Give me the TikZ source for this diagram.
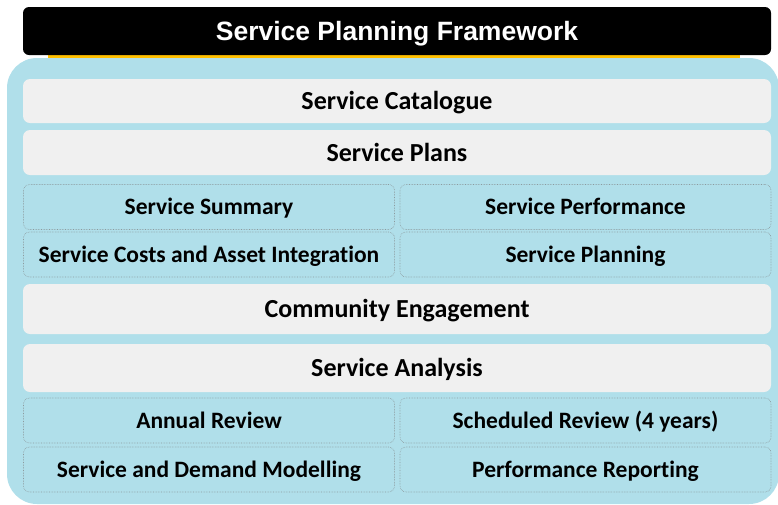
\documentclass[tikz,border=0pt]{standalone}
\usepackage{fontspec}
\setmainfont{Carlito}[Ligatures=NoCommon]
\newfontfamily\titlefont{Liberation Sans}
\usetikzlibrary{calc}

\definecolor{panelblue}{HTML}{B0DFEA}
\definecolor{bargrey}{HTML}{F0F0F0}
\definecolor{lineyellow}{HTML}{FFC000}
\definecolor{dotgrey}{HTML}{8C9A9E}

\begin{document}
\begin{tikzpicture}[x=1pt, y=-1pt,
  bar/.style={fill=bargrey, rounded corners=7pt, minimum width=748pt, inner sep=0pt,
    text height=17pt, text depth=0pt,
    font=\fontsize{26}{30}\selectfont\bfseries},
  cell/.style={draw=dotgrey, densely dotted, line width=0.6pt, fill=panelblue,
    rounded corners=6pt, minimum width=371pt, minimum height=45pt, inner sep=0pt,
    text height=15pt, text depth=0pt,
    font=\fontsize{23.5}{27}\selectfont\bfseries}]

\useasboundingbox (0, 0) rectangle (778, 504);

\fill[color=panelblue, rounded corners=30pt] (7, 58) rectangle (779, 504);
\fill[color=lineyellow] (48, 53) rectangle (740, 58);

\node[fill=black, rounded corners=6pt, minimum width=748pt, minimum height=48pt, inner sep=0pt,
  text=white, text height=19pt, text depth=0pt,
  font=\titlefont\fontsize{26.5}{30}\selectfont\bfseries] (title) at (397, 31) {Service Planning Framework};

\node[bar, minimum height=44pt] (catalogue) at (397, 101) {Service Catalogue};
\node[bar, minimum height=45pt] (plans) at (397, 152.5) {Service Plans};

\node[cell] (summary) at (209, 207) {Service Summary};
\node[cell] (performance) at (585.5, 207) {Service Performance};
\node[cell] (costs) at (209, 254.5) {Service Costs and Asset Integration};
\node[cell] (planning) at (585.5, 254.5) {Service Planning};

\node[bar, minimum height=50pt] (engagement) at (397, 309) {Community Engagement};
\node[bar, minimum height=48pt] (analysis) at (397, 368) {Service Analysis};

\node[cell] (annual) at (209, 420.5) {Annual Review};
\node[cell] (scheduled) at (585.5, 420.5) {Scheduled Review (4 years)};
\node[cell] (modelling) at (209, 469.5) {Service and Demand Modelling};
\node[cell] (reporting) at (585.5, 469.5) {Performance Reporting};

\end{tikzpicture}
\end{document}
